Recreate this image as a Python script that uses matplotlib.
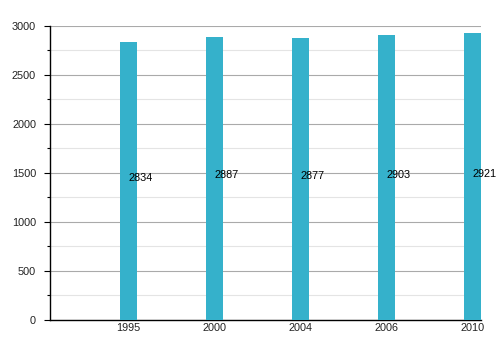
import numpy as np
import matplotlib.pyplot as plt
from matplotlib.ticker import MultipleLocator

years = ['1995', '2000', '2004', '2006', '2010']
values = [2834, 2887, 2877, 2903, 2921]

plt.rcParams['font.family'] = ['Liberation Sans', 'DejaVu Sans']

fig = plt.figure(figsize=(5, 3.5), dpi=100)
ax = fig.add_axes([0.1, 0.0857, 0.862, 0.841])

x = np.arange(len(years))
ax.bar(x, values, width=0.2, color='#35B1CB', zorder=3)

# value labels at half height, starting from bar centre
for xi, v in zip(x, values):
    ax.text(xi, v / 2, str(v), ha='left', va='baseline', fontsize=7.8,
            color='black', zorder=4)

ax.set_xlim(-0.913, 4.099)
ax.set_ylim(0, 3000)
ax.set_xticks(x)
ax.set_xticklabels(years)
ax.yaxis.set_major_locator(MultipleLocator(500))
ax.yaxis.set_minor_locator(MultipleLocator(250))

ax.grid(axis='y', which='major', color='#aaaaaa', linewidth=0.8, zorder=0)
ax.grid(axis='y', which='minor', color='#e4e4e4', linewidth=0.8, zorder=0)
ax.set_axisbelow(True)

for side in ['top', 'right']:
    ax.spines[side].set_visible(False)
ax.spines['left'].set_linewidth(1.0)
ax.spines['bottom'].set_linewidth(1.0)

ax.tick_params(axis='x', length=0, pad=2.5, labelsize=7.8, colors='#222222')
ax.tick_params(axis='y', which='major', length=4, width=0.8,
               pad=6, labelsize=7.8, labelcolor='#222222')
ax.tick_params(axis='y', which='minor', length=2.5, width=0.8)

fig.savefig('out.png', dpi=100)
